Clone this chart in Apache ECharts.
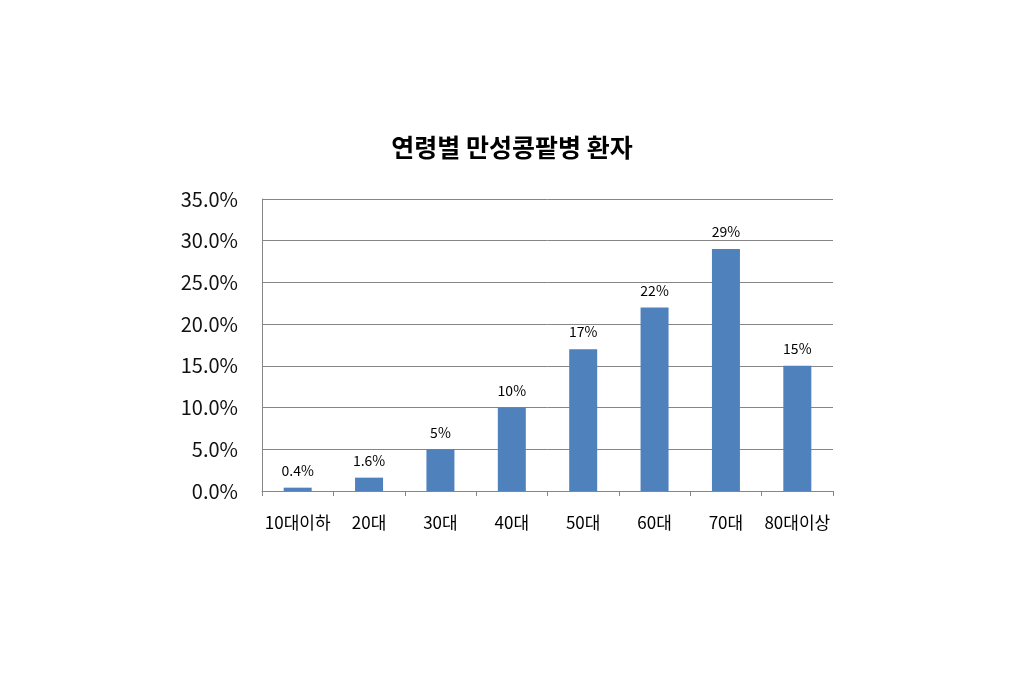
<!DOCTYPE html>
<html>
<head>
<meta charset="utf-8">
<script src="https://cdn.jsdelivr.net/npm/echarts@6/dist/echarts.min.js"></script>
<style>
  html, body { margin: 0; padding: 0; background: #fff; }
  #chart { width: 1024px; height: 682px; }
</style>
</head>
<body>
<div id="chart"></div>
<script>
// 연령대별 데이터
var categories = ['10대이하', '20대', '30대', '40대', '50대', '60대', '70대', '80대이상'];
var patientRate = [0.4, 1.6, 5, 10, 17, 22, 29, 15];

var font = '"Noto Sans CJK KR", "Noto Sans", sans-serif';

var chart = echarts.init(document.getElementById('chart'));
chart.setOption({
    animation: false,
    backgroundColor: '#fff',
    title: {
        text: '연령별 만성콩팥병 환자',
        left: 'center',
        top: 130,
        textStyle: { fontFamily: font, fontSize: 25, fontWeight: 'bold', color: '#000' }
    },
    grid: { left: 262, right: 191, top: 199, bottom: 191 },
    xAxis: {
        type: 'category',
        data: categories,
        axisLine: { lineStyle: { color: '#868686', width: 1 } },
        axisTick: { show: true, interval: 0, length: 5, lineStyle: { color: '#868686' } },
        axisLabel: { interval: 0, margin: 23, fontFamily: font, fontSize: 17, color: '#000' }
    },
    yAxis: {
        type: 'value',
        min: 0,
        max: 35,
        interval: 5,
        axisLine: { show: true, lineStyle: { color: '#868686', width: 1 } },
        axisTick: { show: false },
        splitLine: { lineStyle: { color: '#868686', width: 1 } },
        axisLabel: {
            margin: 24,
            fontFamily: font,
            fontSize: 20,
            color: '#111',
            formatter: function (v) { return v.toFixed(1) + '%'; }
        }
    },
    series: [{
        type: 'bar',
        data: patientRate,
        barWidth: 28,
        itemStyle: { color: '#4F81BD' },
        label: {
            show: true,
            position: 'top',
            distance: 10,
            fontFamily: font,
            fontSize: 14,
            color: '#000',
            formatter: function (p) { return p.value + '%'; }
        }
    }]
});
</script>
</body>
</html>
